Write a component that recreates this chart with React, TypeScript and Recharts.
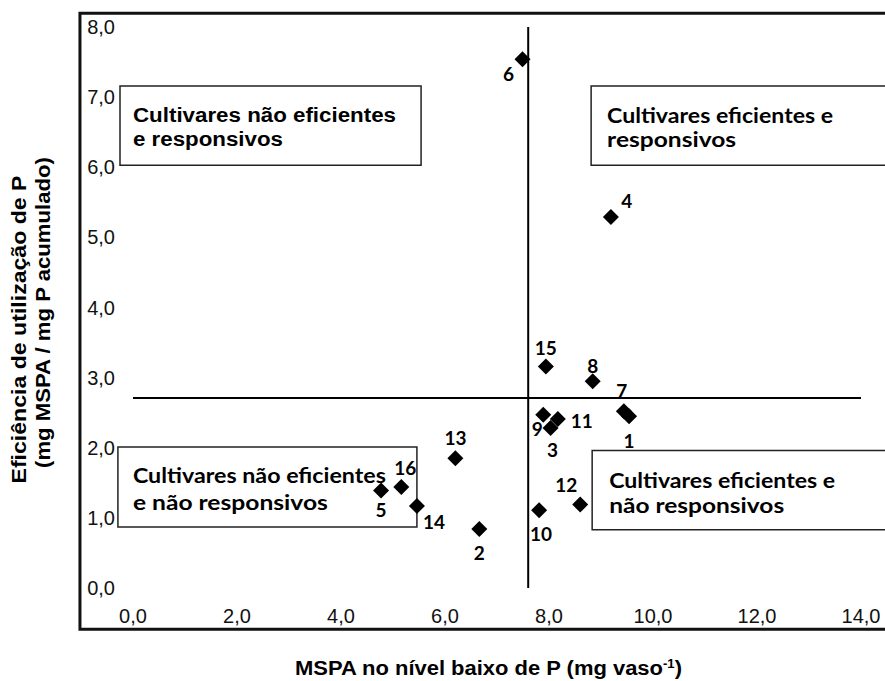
import React from 'react';
import { ScatterChart, Scatter, XAxis, YAxis, ReferenceLine, ReferenceArea } from 'recharts';

// cultivar number, MSPA at low P (x) and P use efficiency (y)
const cultivarIds = ['1', '2', '3', '4', '5', '6', '7', '8', '9', '10', '11', '12', '13', '14', '15', '16'];
const mspaLowP = [9.54, 6.66, 8.03, 9.19, 4.77, 7.49, 9.44, 8.84, 7.89, 7.81, 8.17, 8.6, 6.2, 5.46, 7.94, 5.16];
const efficiencyP = [2.45, 0.84, 2.28, 5.29, 1.39, 7.54, 2.52, 2.95, 2.47, 1.11, 2.41, 1.19, 1.85, 1.17, 3.16, 1.44];

const xTicks = [0, 2, 4, 6, 8, 10, 12, 14];
const yTicks = [0, 1, 2, 3, 4, 5, 6, 7, 8];

// averages that split the quadrants
const meanMspa = 7.6;
const meanEfficiency = 2.71;

const quadrantTitles = [
  ['Cultivares não eficientes', 'e responsivos'],
  ['Cultivares eficientes e', 'responsivos'],
  ['Cultivares não eficientes', 'e não responsivos'],
  ['Cultivares eficientes e', 'não responsivos'],
];

const data = cultivarIds.map((id, i) => ({ id, x: mspaLowP[i], y: efficiencyP[i] }));

// where each number sits relative to its marker (like excel data label positions)
const labelOffsets: Record<string, [number, number]> = {
  '1': [0, 24], '2': [0, 23], '3': [2, 21], '4': [16, -17],
  '5': [0, 19], '6': [-14, 14], '7': [-2, -21], '8': [0, -16],
  '9': [-6, 14], '10': [2, 23], '11': [24, 2], '12': [-14, -20],
  '13': [0, -21], '14': [17, 16], '15': [0, -19], '16': [4, -20],
};

const ARIAL = '"Liberation Sans", Arial, sans-serif';
const CALIBRI = 'Lato, "Open Sans", sans-serif';

const fmt = (v: number) => v.toFixed(1).replace('.', ',');

const Diamond = (props: any) => {
  const { cx, cy, payload } = props;
  const r = 8;
  const [dx, dy] = labelOffsets[payload.id] || [0, -18];
  return (
    <g>
      <path d={`M${cx},${cy - r}L${cx + r},${cy}L${cx},${cy + r}L${cx - r},${cy}Z`} fill="#000" />
      <text x={cx + dx} y={cy + dy} textAnchor="middle" dominantBaseline="central"
        fontFamily={CALIBRI} fontWeight={700} fontSize={19} fill="#000">{payload.id}</text>
    </g>
  );
};

const boxText = (lines: string[], font: string, size: number, padX: number, base: number, lh: number, lengths: number[]) =>
  (props: any) => {
    const vb = props.viewBox;
    return (
      <g>
        {lines.map((l, i) => (
          <text key={i} x={vb.x + padX} y={vb.y + base + i * lh} fontFamily={font} fontWeight={700}
            fontSize={size} fill="#000" textLength={lengths[i]} lengthAdjust="spacingAndGlyphs">{l}</text>
        ))}
      </g>
    );
  };

const yTitle = (props: any) => {
  const vb = props.viewBox;
  const mid = vb.y + vb.height / 2;
  return (
    <g fontFamily={ARIAL} fontWeight={700} fontSize={20} fill="#000">
      <text x={19} y={mid + 22} transform={`rotate(-90 19 ${mid + 22})`} textAnchor="middle"
        dominantBaseline="central" textLength={308} lengthAdjust="spacingAndGlyphs">Eficiência de utilização de P</text>
      <text x={43} y={mid + 5} transform={`rotate(-90 43 ${mid + 5})`} textAnchor="middle"
        dominantBaseline="central" textLength={311} lengthAdjust="spacingAndGlyphs">(mg MSPA / mg P acumulado)</text>
    </g>
  );
};

const xTitle = (props: any) => {
  const vb = props.viewBox;
  return (
    <text x={295} y={vb.y + 87} fontFamily={ARIAL} fontWeight={700} fontSize={20} fill="#000"
      textLength={387} lengthAdjust="spacingAndGlyphs">
      MSPA no nível baixo de P (mg vaso<tspan dy={-7} fontSize={12}>-1</tspan><tspan dy={7}>)</tspan>
    </text>
  );
};

export default function App() {
  return (
    <div style={{ position: 'absolute', left: 0, top: 0, width: 885, height: 681, background: '#fff' }}>
      <ScatterChart width={885} height={681} margin={{ top: 27, right: 24, left: 0, bottom: 0 }}>
        <XAxis type="number" dataKey="x" domain={[0, 14]} ticks={xTicks} tickFormatter={fmt}
          axisLine={false} tickLine={false} tickSize={0} tickMargin={21} height={93}
          tick={{ fontFamily: ARIAL, fontSize: 20, fill: '#111' }} label={xTitle} />
        <YAxis type="number" dataKey="y" domain={[0, 8]} ticks={yTicks} tickFormatter={fmt}
          axisLine={false} tickLine={false} tickSize={0} tickMargin={18} width={133}
          tick={{ fontFamily: ARIAL, fontSize: 20, fill: '#111' }} label={yTitle} />

        {/* outer plot frame */}
        <ReferenceArea x1={-1.02} x2={14.6} y1={-0.59} y2={8.195} ifOverflow="visible"
          fill="none" fillOpacity={0} stroke="#111" strokeWidth={3} />

        <ReferenceArea x1={-0.25} x2={5.54} y1={6.03} y2={7.16} ifOverflow="visible"
          fill="#fff" fillOpacity={1} stroke="#222" strokeWidth={1.5}
          label={boxText(quadrantTitles[0], ARIAL, 20, 13, 36, 24, [263, 150])} />
        <ReferenceArea x1={8.81} x2={16} y1={6.03} y2={7.16} ifOverflow="visible"
          fill="#fff" fillOpacity={1} stroke="#222" strokeWidth={1.5}
          label={boxText(quadrantTitles[1], CALIBRI, 20, 16, 37, 24, [226, 129])} />
        <ReferenceArea x1={-0.29} x2={5.46} y1={0.87} y2={2.01} ifOverflow="visible"
          fill="#fff" fillOpacity={1} stroke="#222" strokeWidth={1.5}
          label={boxText(quadrantTitles[2], CALIBRI, 20, 15, 36, 27, [253, 195])} />
        <ReferenceArea x1={8.83} x2={16} y1={0.83} y2={1.96} ifOverflow="visible"
          fill="#fff" fillOpacity={1} stroke="#222" strokeWidth={1.5}
          label={boxText(quadrantTitles[3], CALIBRI, 20, 17, 37, 25, [226, 175])} />

        <ReferenceLine x={meanMspa} stroke="#000" strokeWidth={2} />
        <ReferenceLine y={meanEfficiency} stroke="#000" strokeWidth={2} />

        <Scatter data={data} shape={Diamond} isAnimationActive={false} />
      </ScatterChart>
    </div>
  );
}
